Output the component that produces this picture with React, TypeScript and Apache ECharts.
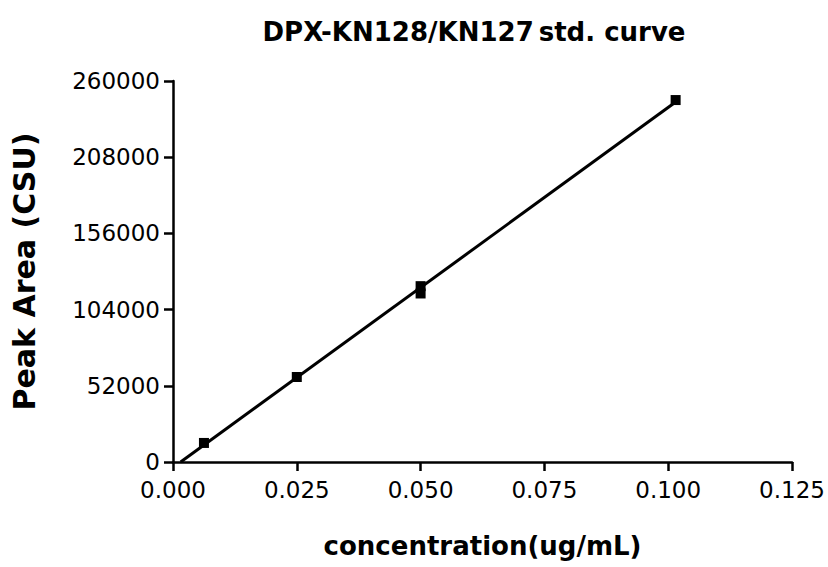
import React, { useEffect, useRef } from "react";
import * as echarts from "echarts";

const concentrations = [0.00625, 0.025, 0.05, 0.05, 0.1015];
const peakAreas = [13000, 58000, 120000, 115000, 247000];
const xTicks = { min: 0, max: 0.125, interval: 0.025 };
const yTicks = { min: 0, max: 260000, interval: 52000 };
const titleMain = "DPX-KN128/KN127";
const titleSub = "std. curve";
const xName = "concentration(ug/mL)";
const yName = "Peak Area (CSU)";

function fitLine(xs: number[], ys: number[]) {
  const n = xs.length;
  const mx = xs.reduce((a, b) => a + b, 0) / n;
  const my = ys.reduce((a, b) => a + b, 0) / n;
  let sxy = 0, sxx = 0;
  for (let i = 0; i < n; i++) {
    sxy += (xs[i] - mx) * (ys[i] - my);
    sxx += (xs[i] - mx) * (xs[i] - mx);
  }
  const slope = sxy / sxx;
  const intercept = my - slope * mx;
  const x0 = Math.max(0, -intercept / slope);
  const x1 = Math.max(...xs);
  return [
    [x0, slope * x0 + intercept],
    [x1, slope * x1 + intercept],
  ];
}

export default function App() {
  const ref = useRef<HTMLDivElement>(null);
  useEffect(() => {
    document.body.style.margin = "0";
    const chart = echarts.init(ref.current!, null, { renderer: "svg" });
    const font = "DejaVu Sans";
    const axisLine = { show: true, lineStyle: { color: "#000", width: 2.5 } };
    const axisTick = { show: true, length: 9, lineStyle: { color: "#000", width: 2.5 } };
    chart.setOption({
      animation: false,
      backgroundColor: "#fff",
      title: {
        text: `{a|${titleMain}} {b|${titleSub}}`,
        left: 469,
        textAlign: "center",
        top: 14,
        textStyle: {
          rich: {
            a: { fontFamily: font, fontWeight: "bold", fontSize: 26, color: "#000" },
            b: { fontFamily: font, fontWeight: "bold", fontSize: 26, color: "#000" },
          },
        },
      },
      grid: { left: 173, right: 36, top: 81, bottom: 105, containLabel: false },
      xAxis: {
        type: "value",
        min: xTicks.min,
        max: xTicks.max,
        interval: xTicks.interval,
        splitLine: { show: false },
        axisLine,
        axisTick,
        axisLabel: {
          margin: 16,
          color: "#000",
          fontFamily: font,
          fontSize: 23,
          formatter: (v: number) => v.toFixed(3),
        },
        name: xName,
        nameLocation: "middle",
        nameGap: 71,
        nameTextStyle: { fontFamily: font, fontWeight: "bold", fontSize: 26, color: "#000" },
      },
      yAxis: {
        type: "value",
        min: yTicks.min,
        max: yTicks.max,
        interval: yTicks.interval,
        splitLine: { show: false },
        axisLine,
        axisTick,
        axisLabel: {
          margin: 13,
          color: "#000",
          fontFamily: font,
          fontSize: 23,
          formatter: (v: number) => String(v),
        },
        name: yName,
        nameLocation: "middle",
        nameGap: 134,
        nameTextStyle: { fontFamily: font, fontWeight: "bold", fontSize: 30, color: "#000" },
      },
      series: [
        {
          type: "line",
          data: fitLine(concentrations, peakAreas),
          showSymbol: false,
          symbol: "none",
          lineStyle: { color: "#000", width: 3 },
          z: 2,
        },
        {
          type: "scatter",
          data: concentrations.map((x, i) => [x, peakAreas[i]]),
          symbol: "rect",
          symbolSize: 10,
          itemStyle: { color: "#000", opacity: 1 },
          z: 3,
        },
      ],
    });
    return () => chart.dispose();
  }, []);
  return <div ref={ref} style={{ position: "fixed", left: 0, top: 0, width: 828, height: 567 }} />;
}
